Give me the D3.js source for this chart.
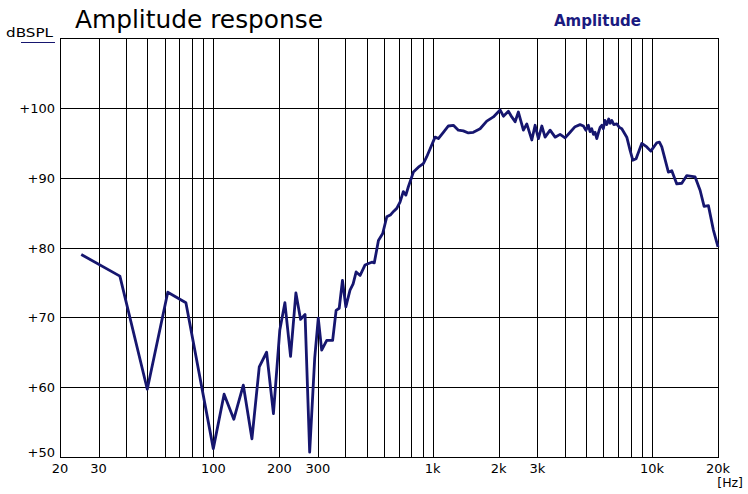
<!DOCTYPE html>
<html>
<head>
<meta charset="utf-8">
<script src="https://cdn.jsdelivr.net/npm/d3@7"></script>
<style>
  html, body { margin: 0; padding: 0; background: #fff; }
  svg { display: block; }
</style>
</head>
<body>
<script>
// ---- Data ----
const freqs = [25, 37.5, 50, 62, 75, 100, 112, 124, 137, 150, 162, 175, 188, 201, 212, 225, 238, 250, 262, 275,
  290, 301, 312, 329, 350, 363, 375, 388, 402, 420, 434, 448, 467, 492, 510, 528, 542, 566, 592, 618, 644, 665,
  686, 710, 735, 755, 775, 817, 861, 907, 940, 973, 1026, 1062, 1119, 1180, 1243, 1310, 1380, 1455, 1533, 1646,
  1765, 1892, 2030, 2102, 2215, 2295, 2377, 2460, 2593, 2687, 2832, 2932, 3036, 3146, 3256, 3432, 3617, 3811,
  4017, 4234, 4460, 4700, 4868, 5000, 5129, 5222, 5315, 5410, 5504, 5603, 5698, 5800, 5904, 6000, 6100, 6222,
  6350, 6450, 6558, 6700, 6911, 7100, 7284, 7677, 7948, 8177, 8463, 8983, 9467, 9876, 10520, 10812, 11086,
  11879, 12312, 12975, 13674, 14411, 15728, 16574, 17287, 18085, 19058, 20000];
const levels = [79.0, 75.9, 59.7, 73.6, 72.1, 51.2, 59.0, 55.4, 60.3, 52.6, 62.9, 65.0, 56.2, 68.2, 72.1, 64.4, 73.5, 69.7, 70.4, 50.7,
  64.2, 69.9, 65.3, 66.7, 66.7, 71.0, 71.3, 75.3, 71.5, 73.9, 74.8, 76.5, 76.0, 77.5, 77.7, 77.9, 77.8, 81.0, 82.0, 84.4, 84.7, 85.2,
  85.6, 86.5, 88.0, 87.5, 88.7, 90.8, 91.5, 92.0, 93.0, 94.1, 95.8, 95.6, 96.5, 97.4, 97.5, 96.8, 96.7, 96.4, 96.5, 97.0,
  98.1, 98.7, 99.7, 98.8, 99.5, 98.7, 98.0, 99.4, 96.8, 97.7, 95.4, 97.5, 95.6, 97.4, 95.8, 96.8, 95.8, 96.2,
  95.7, 96.5, 97.3, 97.6, 97.4, 96.8, 97.5, 96.6, 97.0, 96.2, 96.5, 95.6, 96.4, 97.2, 97.5, 97.0, 98.2, 97.6,
  98.4, 97.8, 98.2, 97.6, 97.7, 97.2, 97.0, 95.8, 93.9, 92.5, 92.7, 94.9, 94.4, 93.8, 95.0, 95.1, 94.4,
  90.8, 91.0, 89.1, 89.2, 90.3, 90.1, 88.2, 85.9, 86.0, 82.5, 80.1];

const xGrid = [30, 40, 50, 60, 70, 80, 90, 100, 200, 300, 400, 500, 600, 700, 800, 900, 1000,
  2000, 3000, 4000, 5000, 6000, 7000, 8000, 9000, 10000];
const xTickValues = [20, 30, 100, 200, 300, 1000, 2000, 3000, 10000, 20000];
const xTickLabels = ["20", "30", "100", "200", "300", "1k", "2k", "3k", "10k", "20k"];
const yTickValues = [50, 60, 70, 80, 90, 100];
const yTickLabels = ["+50", "+60", "+70", "+80", "+90", "+100"];

const title = "Amplitude response";
const yUnit = "dBSPL";
const xUnit = "[Hz]";
const seriesName = "Amplitude";

// ---- Layout ----
const W = 748, H = 494;
const L = 60, R = 718, T = 38, B = 457;
const traceColor = "#16166f";
const font = "'DejaVu Sans', sans-serif";

const svg = d3.select("body").append("svg").attr("width", W).attr("height", H)
  .style("background", "#fff");

const x = d3.scaleLog().domain([20, 20000]).range([L, R]);
const y = d3.scaleLinear().domain([50, 110]).range([B, T]);
const px = v => Math.round(v) + 0.5;

// grid
const grid = svg.append("g").attr("stroke", "#000").attr("stroke-width", 1).attr("shape-rendering", "crispEdges");
grid.selectAll("line.v").data(xGrid).join("line")
  .attr("x1", d => px(x(d))).attr("x2", d => px(x(d)))
  .attr("y1", T).attr("y2", B);
grid.selectAll("line.h").data(yTickValues.filter(v => v > 50)).join("line")
  .attr("x1", L).attr("x2", R)
  .attr("y1", d => px(y(d))).attr("y2", d => px(y(d)));
grid.append("rect").attr("x", L + 0.5).attr("y", T + 0.5).attr("width", R - L).attr("height", B - T)
  .attr("fill", "none");

// trace
const pts = freqs.map((f, i) => [f, levels[i]]);
const line = d3.line().x(d => x(d[0])).y(d => y(d[1]));
svg.append("path").datum(pts)
  .attr("d", line)
  .attr("fill", "none")
  .attr("stroke", traceColor)
  .attr("stroke-width", 2.8)
  .attr("stroke-linejoin", "round");

// x labels
svg.append("g").selectAll("text").data(xTickValues).join("text")
  .attr("x", d => x(d)).attr("y", 473)
  .attr("text-anchor", "middle")
  .attr("font-family", font).attr("font-size", 13)
  .attr("fill", "#000")
  .text((d, i) => xTickLabels[i]);

// y labels
svg.append("g").selectAll("text").data(yTickValues).join("text")
  .attr("x", 55).attr("y", d => Math.min(y(d) + 5, B))
  .attr("text-anchor", "end")
  .attr("font-family", font).attr("font-size", 13)
  .attr("fill", "#000")
  .text((d, i) => yTickLabels[i]);

// title
svg.append("text").attr("x", 75).attr("y", 28)
  .attr("font-family", font).attr("font-size", 24)
  .attr("textLength", 248).attr("lengthAdjust", "spacingAndGlyphs")
  .attr("fill", "#000").text(title);

// y unit
svg.append("text").attr("x", 6).attr("y", 37)
  .attr("font-family", font).attr("font-size", 11.5)
  .attr("textLength", 47).attr("lengthAdjust", "spacingAndGlyphs")
  .attr("fill", "#000").text(yUnit);
svg.append("line").attr("x1", 21).attr("x2", 55).attr("y1", 42.5).attr("y2", 42.5)
  .attr("stroke", traceColor).attr("stroke-width", 1);

// x unit
svg.append("text").attr("x", 743).attr("y", 487)
  .attr("text-anchor", "end")
  .attr("font-family", font).attr("font-size", 12.5)
  .attr("fill", "#000").text(xUnit);

// legend
svg.append("text").attr("x", 554).attr("y", 26)
  .attr("font-family", font).attr("font-size", 15).attr("font-weight", "bold")
  .attr("fill", "#1a1a80").text(seriesName);
</script>
</body>
</html>
